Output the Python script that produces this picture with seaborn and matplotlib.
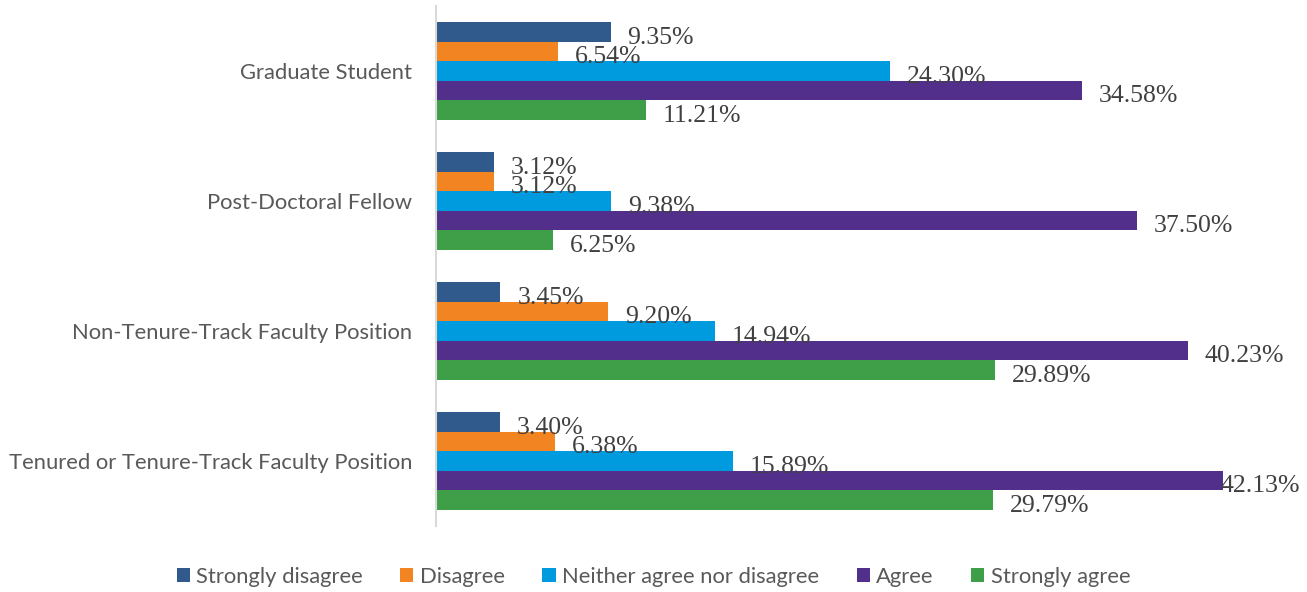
import matplotlib
matplotlib.use("Agg")
import matplotlib.pyplot as plt
from matplotlib.patches import Patch
import seaborn as sns
import pandas as pd

# Survey responses (% of respondents) by career stage
positions = [
    "Graduate Student",
    "Post-Doctoral Fellow",
    "Non-Tenure-Track Faculty Position",
    "Tenured or Tenure-Track Faculty Position",
]
responses = [
    "Strongly disagree",
    "Disagree",
    "Neither agree nor disagree",
    "Agree",
    "Strongly agree",
]
strongly_disagree = [9.35, 3.12, 3.45, 3.40]
disagree = [6.54, 3.12, 9.20, 6.38]
neither = [24.30, 9.38, 14.94, 15.89]
agree = [34.58, 37.50, 40.23, 42.13]
strongly_agree = [11.21, 6.25, 29.89, 29.79]

colors = ["#2F5A8B", "#F28522", "#009BDF", "#532F8C", "#3F9E48"]

series = [strongly_disagree, disagree, neither, agree, strongly_agree]
df = pd.DataFrame(
    [(p, r, vals[i]) for r, vals in zip(responses, series) for i, p in enumerate(positions)],
    columns=["position", "response", "pct"],
)

sns.set_theme(style="white")
plt.rcParams["font.family"] = ["Lato", "DejaVu Sans"]

W, H = 1307, 592
fig = plt.figure(figsize=(W / 100, H / 100), dpi=100)
ax = fig.add_axes([436 / W, 1 - 526 / H, (1300 - 436) / W, 520 / H])

sns.barplot(
    data=df, y="position", x="pct", hue="response",
    order=positions, hue_order=responses, palette=colors,
    orient="h", width=0.75, gap=0, linewidth=0, saturation=1,
    legend=False, ax=ax,
)

xmax = (1300 - 436) / 18.69
ax.set_xlim(0, xmax)
ax.set_ylim(3.5, -0.5)
ax.set_xlabel("")
ax.set_ylabel("")
ax.set_xticks([])

for side in ["top", "right", "bottom"]:
    ax.spines[side].set_visible(False)
ax.spines["left"].set_color("#D9D9D9")
ax.spines["left"].set_linewidth(1.5)

ax.tick_params(axis="y", length=0, pad=17, labelsize=15.8, labelcolor="#595959")

# Value labels at the end of each bar
label_font = dict(family="Liberation Serif", size=18.5, color="#404040")
for container in ax.containers:
    for bar in container:
        v = bar.get_width()
        yc = bar.get_y() + bar.get_height() / 2 + 0.045
        txt = f"{v:.2f}%"
        xpos = v + 0.9
        if xpos + 4.9 > xmax:
            ax.text(xmax, yc, txt, ha="right", va="center", **label_font)
        else:
            ax.text(xpos, yc, txt, ha="left", va="center", **label_font)

handles = [Patch(facecolor=c, edgecolor="none", label=r) for c, r in zip(colors, responses)]
fig.legend(
    handles=handles, loc="center", bbox_to_anchor=(0.5, 1 - 577 / H), ncol=5,
    frameon=False, handlelength=0.6, handleheight=0.6, handletextpad=0.3,
    columnspacing=1.7, prop=dict(family="Lato", size=15.8), labelcolor="#595959",
)

fig.savefig("out.png", dpi=100)
